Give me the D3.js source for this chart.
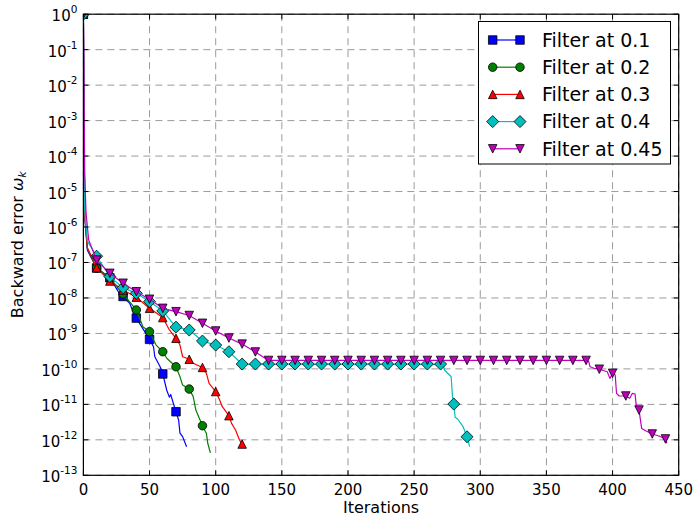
<!DOCTYPE html>
<html><head><meta charset="utf-8">
<script src="https://cdn.jsdelivr.net/npm/d3@7"></script>
<style>html,body{margin:0;padding:0;background:#fff}svg{display:block}</style>
</head><body>
<svg id="c" width="697" height="519"></svg>
<script>
// ---------- data ----------
const seriesNames = ["Filter at 0.1","Filter at 0.2","Filter at 0.3","Filter at 0.4","Filter at 0.45"];
const xTicks = [0,50,100,150,200,250,300,350,400,450];
const yExponents = [0,-1,-2,-3,-4,-5,-6,-7,-8,-9,-10,-11,-12,-13];

const filter01 = [[0,1],[1,1.9e-6],[3,2.2e-7],[10,7.0e-8],[20,3.7e-8],[28,1.2e-8],[30,1.1e-8],[35,7.1e-9],[38,3.7e-9],[40,2.7e-9],[50,6.8e-10],[53,4.2e-10],[54,2.2e-10],[58,1.15e-10],[60,7.2e-11],[63,2.5e-11],[65,1.6e-11],[66,1.9e-11],[68,1.07e-11],[70,6.2e-12],[72,3.6e-12],[73,1.55e-12],[75,1.23e-12],[78,6.4e-13]];
const filter02 = [[0,1],[1,2.2e-6],[3,2.5e-7],[10,7.0e-8],[20,3.7e-8],[30,1.3e-8],[40,4.6e-9],[43,2.4e-9],[45,1.55e-9],[50,1.12e-9],[53,6.5e-10],[55,4.7e-10],[60,3.05e-10],[63,2.0e-10],[70,1.15e-10],[73,6.0e-11],[75,3.5e-11],[80,2.7e-11],[83,1.65e-11],[85,6.9e-12],[90,2.5e-12],[93,1.5e-12],[94,8e-13],[96,4.3e-13]];
const filter03 = [[0,1],[1,2.4e-6],[3,2.6e-7],[10,7.1e-8],[20,3.0e-8],[30,1.67e-8],[40,1.05e-8],[50,5.1e-9],[60,2.8e-9],[63,1.73e-9],[65,1.25e-9],[70,7.3e-10],[73,4.7e-10],[75,2.2e-10],[80,1.87e-10],[83,1.44e-10],[90,1.1e-10],[93,7.5e-11],[95,3.9e-11],[100,2.3e-11],[103,1.33e-11],[105,8.6e-12],[110,4.8e-12],[112,2.9e-12],[115,1.9e-12],[118,9.9e-13],[120,7.6e-13]];
const filter04 = [[0,1],[1,3e-6],[3,4e-7],[10,1.5e-7],[20,4.0e-8],[30,1.95e-8],[40,1.35e-8],[50,7.9e-9],[60,4.3e-9],[70,1.5e-9],[80,1.25e-9],[90,6.1e-10],[100,4.7e-10],[110,3.05e-10],[120,1.37e-10],[130,1.37e-10],[140,1.37e-10],[150,1.37e-10],[160,1.37e-10],[170,1.37e-10],[180,1.37e-10],[190,1.37e-10],[200,1.37e-10],[210,1.37e-10],[220,1.37e-10],[230,1.37e-10],[240,1.37e-10],[250,1.37e-10],[260,1.37e-10],[270,1.37e-10],[272,1.37e-10],[273,9.3e-11],[275,7.8e-11],[278,6.0e-11],[279,1.65e-11],[280,1.02e-11],[281,4.3e-12],[283,3.8e-12],[287,2.35e-12],[290,1.22e-12],[292,6.4e-13]];
const filter045 = [[0,1],[1,3e-5],[2,2.5e-6],[4,4.3e-7],[10,1.17e-7],[20,4.95e-8],[30,2.6e-8],[40,1.5e-8],[50,9.2e-9],[60,5.1e-9],[70,4.1e-9],[80,3.2e-9],[90,1.93e-9],[100,1.17e-9],[110,7.4e-10],[120,5.0e-10],[130,3.0e-10],[140,1.73e-10],[150,1.73e-10],[160,1.73e-10],[170,1.73e-10],[180,1.73e-10],[190,1.73e-10],[200,1.73e-10],[210,1.73e-10],[220,1.73e-10],[230,1.73e-10],[240,1.73e-10],[250,1.73e-10],[260,1.73e-10],[270,1.73e-10],[280,1.73e-10],[290,1.73e-10],[300,1.73e-10],[310,1.73e-10],[320,1.73e-10],[330,1.73e-10],[340,1.73e-10],[350,1.73e-10],[360,1.73e-10],[370,1.73e-10],[380,1.73e-10],[382,1.6e-10],[383,1.15e-10],[386,1.04e-10],[390,9.8e-11],[396,8.3e-11],[398,5.4e-11],[400,7.5e-11],[402,6.7e-11],[403,2.05e-11],[405,1.72e-11],[410,1.72e-11],[413,1.48e-11],[415,2.05e-11],[417,1.96e-11],[418,8.6e-12],[420,6.9e-12],[422,2.1e-12],[425,1.8e-12],[430,1.46e-12],[435,1.28e-12],[440,1.06e-12],[441,8e-13]];
const allSeries = [filter01, filter02, filter03, filter04, filter045];

// ---------- style ----------
const colors = ["#0000ff","#008000","#ff0000","#00bfbf","#bf00bf"];
const shapes = ["square","circle","triangleUp","diamond","triangleDown"];
const MS = 8.5;
const FONT = "DejaVu Sans";

function markerPath(shape, s){
  const h = s/2;
  switch(shape){
    case "square": return `M${-h},${-h}H${h}V${h}H${-h}Z`;
    case "circle": return `M${h},0A${h},${h} 0 1,1 ${-h},0A${h},${h} 0 1,1 ${h},0Z`;
    case "triangleUp": return `M0,${-h}L${h},${h}L${-h},${h}Z`;
    case "triangleDown": return `M0,${h}L${h},${-h}L${-h},${-h}Z`;
    case "diamond": { const d = s*0.707; return `M0,${-d}L${d},0L0,${d}L${-d},0Z`; }
  }
}

const svg = d3.select("#c");
const L = 83.4, R = 678.7, T = 14.2, B = 475.3;
const x = d3.scaleLinear().domain([0,450]).range([L,R]);
const y = d3.scaleLog().domain([1e-13,1]).range([B,T]);
const yTickVals = yExponents.map(e => Math.pow(10,e));

svg.append("rect").attr("width",697).attr("height",519).attr("fill","#fff");
svg.append("defs").append("clipPath").attr("id","clip")
  .append("rect").attr("x",L).attr("y",T).attr("width",R-L).attr("height",B-T);

// grid
const grid = svg.append("g").attr("stroke","#9a9a9a").attr("stroke-width",1).attr("stroke-dasharray","7,5");
grid.selectAll("line.v").data(xTicks).join("line")
  .attr("x1",d=>x(d)).attr("x2",d=>x(d)).attr("y1",T).attr("y2",B);
grid.selectAll("line.h").data(yTickVals).join("line")
  .attr("y1",d=>y(d)).attr("y2",d=>y(d)).attr("x1",L).attr("x2",R);

// series
const plot = svg.append("g").attr("clip-path","url(#clip)");
const line = d3.line().x(d=>x(d[0])).y(d=>y(d[1]));
allSeries.forEach((data,i)=>{
  const g = plot.append("g");
  g.append("path").datum(data).attr("d",line).attr("fill","none")
    .attr("stroke",colors[i]).attr("stroke-width",1.2).attr("stroke-linejoin","round");
  g.selectAll("path.m").data(data.filter(d=>d[0]%10===0)).join("path")
    .attr("class","m")
    .attr("transform",d=>`translate(${x(d[0])},${y(d[1])})`)
    .attr("d",markerPath(shapes[i],MS))
    .attr("fill",colors[i]).attr("stroke","#000").attr("stroke-width",0.8);
});

// frame
svg.append("rect").attr("x",L).attr("y",T).attr("width",R-L).attr("height",B-T)
  .attr("fill","none").attr("stroke","#000").attr("stroke-width",1.2);

// axes ticks (inward, all four sides)
const ticks = svg.append("g").attr("stroke","#000").attr("stroke-width",1);
const TL = 5;
xTicks.forEach(t=>{
  ticks.append("line").attr("x1",x(t)).attr("x2",x(t)).attr("y1",B).attr("y2",B-TL);
  ticks.append("line").attr("x1",x(t)).attr("x2",x(t)).attr("y1",T).attr("y2",T+TL);
});
yTickVals.forEach(t=>{
  ticks.append("line").attr("y1",y(t)).attr("y2",y(t)).attr("x1",L).attr("x2",L+TL);
  ticks.append("line").attr("y1",y(t)).attr("y2",y(t)).attr("x1",R).attr("x2",R-TL);
});

// x tick labels
svg.append("g").selectAll("text").data(xTicks).join("text")
  .attr("x",d=>x(d)).attr("y",B+20).attr("text-anchor","middle")
  .attr("font-family",FONT).attr("font-size",15).text(d=>d);

// y tick labels
const yl = svg.append("g");
yExponents.forEach(e=>{
  const ty = y(Math.pow(10,e));
  const t = yl.append("text").attr("x",L-6).attr("y",ty+7)
    .attr("text-anchor","end").attr("font-family",FONT).attr("font-size",15);
  t.append("tspan").text("10");
  t.append("tspan").attr("font-size",10.5).attr("dy",-8).text(String(e));
});

// axis labels
svg.append("text").attr("x",(L+R)/2).attr("y",513).attr("text-anchor","middle")
  .attr("font-family",FONT).attr("font-size",16).text("Iterations");
const ylab = svg.append("text").attr("transform",`translate(23,${(T+B)/2}) rotate(-90)`)
  .attr("text-anchor","middle").attr("font-family",FONT).attr("font-size",16);
ylab.append("tspan").text("Backward error ");
ylab.append("tspan").attr("font-style","italic").text("ω");
ylab.append("tspan").attr("font-style","italic").attr("font-size",11).attr("dy",3).text("k");

// legend
const lg = svg.append("g");
lg.append("rect").attr("x",478.5).attr("y",21.5).attr("width",192).attr("height",142.5)
  .attr("fill","#fff").attr("stroke","#000").attr("stroke-width",1);
seriesNames.forEach((name,i)=>{
  const cy = 40 + i*27.2;
  lg.append("line").attr("x1",492.7).attr("x2",520).attr("y1",cy).attr("y2",cy)
    .attr("stroke",colors[i]).attr("stroke-width",1.2);
  [492.7,520].forEach(mx=>{
    lg.append("path").attr("transform",`translate(${mx},${cy})`).attr("d",markerPath(shapes[i],MS))
      .attr("fill",colors[i]).attr("stroke","#000").attr("stroke-width",0.8);
  });
  lg.append("text").attr("x",542).attr("y",cy+6.8).attr("font-family",FONT).attr("font-size",19).text(name);
});
</script>
</body></html>
